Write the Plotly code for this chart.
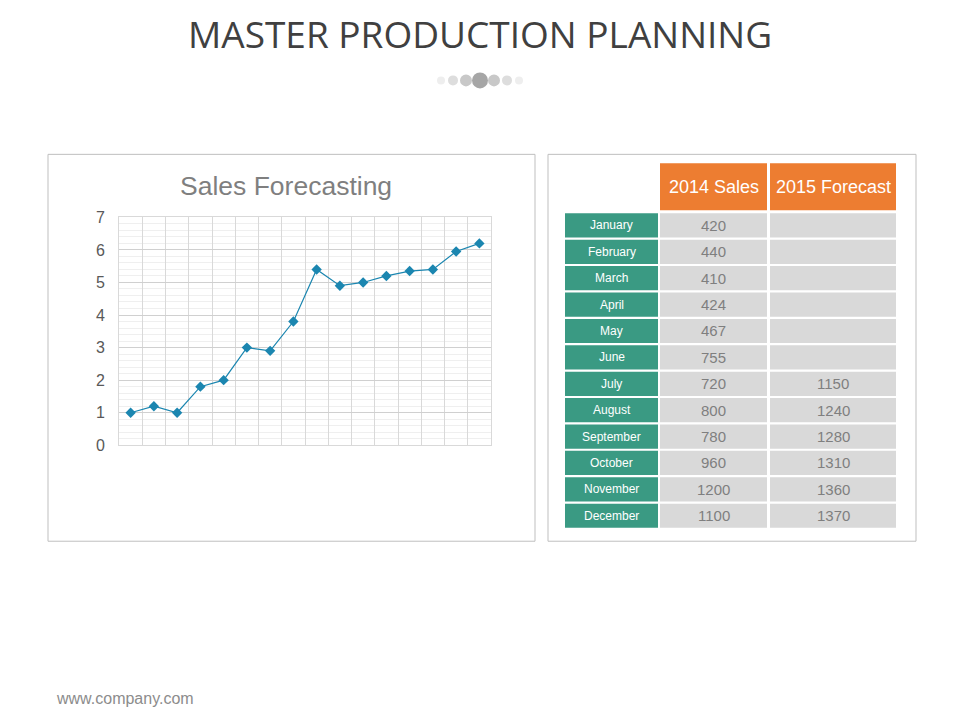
import plotly.graph_objects as go

W, H = 960, 720
forecast = [1, 1.2, 1, 1.8, 2, 3, 2.9, 3.8, 5.4, 4.9, 5, 5.2, 5.35, 5.4, 5.95, 6.2]
months = ["January", "February", "March", "April", "May", "June", "July",
          "August", "September", "October", "November", "December"]
sales_2014 = ["420", "440", "410", "424", "467", "755", "720", "800", "780", "960", "1200", "1100"]
forecast_2015 = ["", "", "", "", "", "", "1150", "1240", "1280", "1310", "1360", "1370"]
headers = ["2014 Sales", "2015 Forecast"]

def px(x): return (x - 8) / W
def py(y): return 1 - ((y - 16.6) / 0.9767) / H

fig = go.Figure()
xs = list(range(len(forecast)))
fig.add_trace(go.Scatter(x=xs, y=forecast, mode="lines+markers",
                         line=dict(color="#1B86B0", width=1.2),
                         marker=dict(symbol="diamond", size=8, color="#1B86B0")))

shapes, ann = [], []
def text(x, y, t, size, color, xanchor="center", family="Liberation Sans"):
    ann.append(dict(x=px(x), y=py(y), xref="paper", yref="paper", text=t, showarrow=False,
                    xanchor=xanchor, yanchor="middle", font=dict(size=size, color=color, family=family)))

for x0, x1 in [(48, 535), (548, 916)]:
    shapes.append(dict(type="rect", xref="paper", yref="paper", x0=px(x0), x1=px(x1),
                       y0=py(542), y1=py(155), line=dict(color="#BFBFBF", width=1), layer="below"))
dots = [(441, 4, "#EEEEEE"), (453, 5, "#DDDDDD"), (466, 6, "#C8C8C8"), (480, 8, "#A6A6A6"),
        (494, 6, "#C8C8C8"), (507, 5, "#DDDDDD"), (519, 4, "#EEEEEE")]
for cx, r, c in dots:
    shapes.append(dict(type="circle", xref="paper", yref="paper", x0=px(cx - r), x1=px(cx + r),
                       y0=py(81 + r), y1=py(81 - r), fillcolor=c, line=dict(width=0)))
cols = [(565, 658), (660, 767), (770, 896)]
for j, h in enumerate(headers):
    x0, x1 = cols[j + 1]
    shapes.append(dict(type="rect", xref="paper", yref="paper", x0=px(x0), x1=px(x1),
                       y0=py(211), y1=py(164), fillcolor="#ED7D31", line=dict(width=0)))
    text((x0 + x1) / 2, 188, h, 18, "white")
for i, m in enumerate(months):
    y0 = 214 + i * 26.4
    y1 = y0 + 24.2
    vals = [m, sales_2014[i], forecast_2015[i]]
    for j, (x0, x1) in enumerate(cols):
        shapes.append(dict(type="rect", xref="paper", yref="paper", x0=px(x0), x1=px(x1),
                           y0=py(y1), y1=py(y0), fillcolor="#3A9A83" if j == 0 else "#D9D9D9",
                           line=dict(width=0)))
        if vals[j]:
            text((x0 + x1) / 2, (y0 + y1) / 2, vals[j], 12 if j == 0 else 15,
                 "white" if j == 0 else "#7F7F7F")
text(480, 34, "MASTER PRODUCTION PLANNING", 37, "#404040", family="Open Sans")
text(286, 187, "Sales Forecasting", 26.5, "#7F7F7F")
text(54, 699, "www.company.com", 16, "#8C8C8C", xanchor="left")

fig.update_layout(
    width=W, height=H, margin=dict(l=0, r=0, t=0, b=0), showlegend=False,
    paper_bgcolor="white", plot_bgcolor="white", shapes=shapes, annotations=ann,
    xaxis=dict(domain=[px(119), px(491)], range=[-0.5, 15.5], tickvals=[k - 0.5 for k in range(17)],
               showticklabels=False, ticks="", showgrid=True, gridcolor="#D9D9D9", zeroline=False,
               showline=True, linecolor="#D9D9D9", mirror=True),
    yaxis=dict(domain=[py(446), py(218)], range=[0, 7], dtick=1, showgrid=True, gridcolor="#D0D0D0",
               zeroline=False, showline=True, linecolor="#D9D9D9", mirror=True, ticks="",
               ticklabelstandoff=10,
               tickfont=dict(size=16, color="#595959", family="Liberation Sans"),
               minor=dict(dtick=0.2, showgrid=True, gridcolor="#EFEFEF")),
)
fig.write_html("out.html")
